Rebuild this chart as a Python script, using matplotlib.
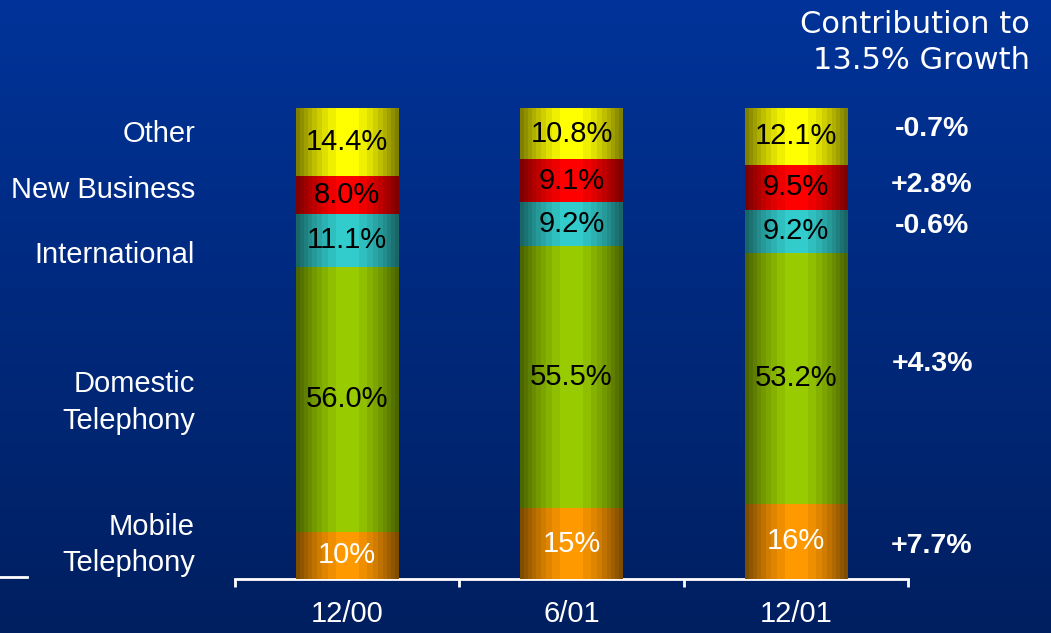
import numpy as np
import matplotlib
matplotlib.use("Agg")
import matplotlib.pyplot as plt
from matplotlib.colors import to_rgb
from matplotlib.lines import Line2D

# data (percent of revenue by period, bottom to top)
periods = ["12/00", "6/01", "12/01"]
segments = ["Mobile\nTelephony", "Domestic\nTelephony", "International", "New Business", "Other"]
mobile = [10, 15, 16]
domestic = [56.0, 55.5, 53.2]
international = [11.1, 9.2, 9.2]
new_business = [8.0, 9.1, 9.5]
other = [14.4, 10.8, 12.1]
value_labels = [
    ["10%", "15%", "16%"],
    ["56.0%", "55.5%", "53.2%"],
    ["11.1%", "9.2%", "9.2%"],
    ["8.0%", "9.1%", "9.5%"],
    ["14.4%", "10.8%", "12.1%"],
]
contribution = ["+7.7%", "+4.3%", "-0.6%", "+2.8%", "-0.7%"]

seg_colors = ["#FF9900", "#99CC00", "#33CCCC", "#FF0000", "#FFFF00"]
label_colors = ["white", "black", "black", "black", "black"]
# where the side labels sit (data y)
side_label_y = [7.2, 37.5, 68.8, 82.6, 94.5]
contrib_y = [7.0, 45.6, 75.0, 83.7, 95.5]

plt.rcParams["font.family"] = ["Liberation Sans", "DejaVu Sans"]

W, H = 1051, 633
fig = plt.figure(figsize=(W / 100, H / 100), dpi=100)

# background gradient
bg = fig.add_axes([0, 0, 1, 1], zorder=0)
top = np.array(to_rgb("#003399"))
bot = np.array(to_rgb("#001F60"))
t = np.linspace(0, 1, 256)[:, None]
grad = top[None, :] * (1 - t) + bot[None, :] * t
bg.imshow(grad[:, None, :].repeat(2, axis=1), aspect="auto", extent=[0, 1, 0, 1])
bg.axis("off")

ax = fig.add_axes([235 / W, (H - 579) / H, 673 / W, 471 / H], zorder=1)
ax.set_facecolor("none")

x = np.arange(len(periods))
series = [mobile, domestic, international, new_business, other]
# every column is drawn as a full 100% stack
totals = np.sum(np.array(series), axis=0)

# cylinder shading profile
u = np.linspace(0, 1, 120)
shade = 0.42 + 0.58 * np.sin(np.pi * (0.04 + 0.92 * u)) ** 1.1
shade = np.round(shade * 16) / 16

bottom = np.zeros(len(periods))
for vals, col, labs, lcol in zip(series, seg_colors, value_labels, label_colors):
    h = np.array(vals) / totals * 100
    bars = ax.bar(x, h, width=0.455, bottom=bottom, color=col, linewidth=0, zorder=2)
    base = np.array(to_rgb(col))
    img = (shade[:, None] * base[None, :])[None, :, :]
    for b in bars:
        im = ax.imshow(img, aspect="auto", zorder=3, interpolation="nearest",
                       extent=[b.get_x(), b.get_x() + b.get_width(),
                               b.get_y(), b.get_y() + b.get_height()])
        im.set_clip_path(b)
    for xi, yb, v, lab in zip(x, bottom, h, labs):
        ax.text(xi, yb + v / 2, lab, ha="center", va="center", fontsize=21,
                color=lcol, zorder=4)
    bottom = bottom + h

ax.set_xlim(-0.5, 2.5)
ax.set_ylim(0, 100)

# side labels and contributions
for name, yv in zip(segments, side_label_y):
    ax.text(-0.678, yv, name, ha="right", va="center", fontsize=21, color="white",
            linespacing=1.4, clip_on=False)
for c, yv in zip(contribution, contrib_y):
    ax.text(2.607, yv, c, ha="center", va="center", fontsize=20.5, color="white",
            fontweight="bold", clip_on=False)

fig.text(1030 / W, 1 - 10 / H, "Contribution to\n13.5% Growth", ha="right", va="top",
         fontsize=22, color="white", family="DejaVu Sans", linespacing=1.3)

# axis styling
for s in ["top", "left", "right"]:
    ax.spines[s].set_visible(False)
ax.spines["bottom"].set_color("white")
ax.spines["bottom"].set_linewidth(2)
ax.set_yticks([])
ax.set_xticks([-0.5, 0.5, 1.5, 2.5])
ax.set_xticklabels([])
ax.tick_params(axis="x", which="major", direction="out", length=6, width=2, color="white")
ax.set_xticks(x, minor=True)
ax.set_xticklabels(periods, minor=True)
ax.tick_params(axis="x", which="minor", length=0, pad=15, labelsize=21, labelcolor="white")

# stray rule at lower left
fig.add_artist(Line2D([0, 27 / W], [1 - 577 / H, 1 - 577 / H], color="white", lw=2))

fig.savefig("out.png", dpi=100)
